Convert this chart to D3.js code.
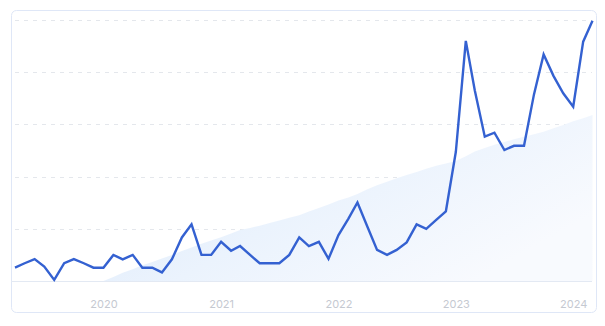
<!DOCTYPE html>
<html>
<head>
<meta charset="utf-8">
<script src="https://cdn.jsdelivr.net/npm/d3@7"></script>
<style>
body{margin:0;background:#fff;}
svg{display:block;}
</style>
</head>
<body>
<script>
//monthly categories, Apr 2019 - Mar 2024
var months=["2019-04","2019-05","2019-06","2019-07","2019-08","2019-09","2019-10","2019-11","2019-12",
	"2020-01","2020-02","2020-03","2020-04","2020-05","2020-06","2020-07","2020-08","2020-09","2020-10","2020-11","2020-12",
	"2021-01","2021-02","2021-03","2021-04","2021-05","2021-06","2021-07","2021-08","2021-09","2021-10","2021-11","2021-12",
	"2022-01","2022-02","2022-03","2022-04","2022-05","2022-06","2022-07","2022-08","2022-09","2022-10","2022-11","2022-12",
	"2023-01","2023-02","2023-03","2023-04","2023-05","2023-06","2023-07","2023-08","2023-09","2023-10","2023-11","2023-12",
	"2024-01","2024-02","2024-03"];

//search interest (0-100)
var interest=[5.1,6.8,8.4,5.5,0.4,6.8,8.4,6.8,5.1,
	5.1,10,8.3,10,5.1,5.1,3.3,8.3,16.7,21.7,10,10,
	15,11.6,13.4,10,6.8,6.8,6.8,10,16.7,13.4,15,8.5,
	17.6,23.9,30.1,20.8,11.9,10,11.9,14.8,21.7,20,23.4,26.7,
	49.5,92,73,55.3,56.8,50.2,51.8,51.8,71.5,86.8,78.5,71.9,66.8,
	91.7,99.7];

//background trend area (starts Jan 2020)
var trend=[null,null,null,null,null,null,null,null,null,
	0,1.5,3.2,4.5,6,7.3,8.6,10,11.5,12.8,14.3,15.5,
	16.8,18.2,19.5,20.3,21.2,22.2,23.2,24.2,25.2,26.6,28,29.3,
	30.8,32,33.3,35.2,36.7,38,39.4,40.6,41.8,43,44.2,45,
	46,47.8,49.6,51,52.2,53.3,54.3,55.3,56.2,57.2,58.5,59.8,61.2,
	62.4,63.6];

var yTicks=[20,40,60,80,100];
var yearTicks=["2020","2021","2022","2023","2024"];

window.onload=drawChart();

function drawChart(){
	var width=605,
		height=326;

	var svg=d3.select("body")
		.append("svg")
		.attr("width",width)
		.attr("height",height);

	var parseMonth=d3.timeParse("%Y-%m"),
		parseYear=d3.timeParse("%Y");

	var data=months.map(function(m,i){
		return {date:parseMonth(m),value:interest[i],trend:trend[i]};
	});

	var x=d3.scaleTime()
		.domain(d3.extent(data,function(d){return d.date;}))
		.range([15,592.5]);

	var y=d3.scaleLinear()
		.domain([0,100])
		.range([281,20]);

	//card
	svg.append("rect")
		.attr("x",11.5)
		.attr("y",10.5)
		.attr("width",585)
		.attr("height",302)
		.attr("rx",5)
		.attr("fill","#fff")
		.attr("stroke","#dfe7f7")
		.attr("stroke-width",1);

	//gradient for trend area, fading to the lower right
	var defs=svg.append("defs");
	var grad=defs.append("linearGradient")
		.attr("id","trendFill")
		.attr("x1","0%").attr("y1","0%")
		.attr("x2","100%").attr("y2","60%");
	grad.append("stop").attr("offset","0%").attr("stop-color","#d9e8fa");
	grad.append("stop").attr("offset","55%").attr("stop-color","#ebf3fd");
	grad.append("stop").attr("offset","100%").attr("stop-color","#f8fafe");

	//dashed gridlines
	svg.selectAll(".grid")
		.data(yTicks)
		.enter()
		.append("line")
		.attr("class","grid")
		.attr("x1",15)
		.attr("x2",592)
		.attr("y1",function(d){return Math.round(y(d))+0.5;})
		.attr("y2",function(d){return Math.round(y(d))+0.5;})
		.attr("stroke","#e4e7ec")
		.attr("stroke-dasharray","4,5");

	//trend area
	var area=d3.area()
		.defined(function(d){return d.trend!=null;})
		.x(function(d){return x(d.date);})
		.y0(y(0))
		.y1(function(d){return y(d.trend);});

	svg.append("path")
		.datum(data)
		.attr("d",area)
		.attr("fill","url(#trendFill)");

	//baseline
	svg.append("line")
		.attr("x1",11)
		.attr("x2",592)
		.attr("y1",Math.round(y(0))+0.5)
		.attr("y2",Math.round(y(0))+0.5)
		.attr("stroke","#e3e9f3");

	//interest line
	var line=d3.line()
		.x(function(d){return x(d.date);})
		.y(function(d){return y(d.value);});

	svg.append("path")
		.datum(data)
		.attr("d",line)
		.attr("fill","none")
		.attr("stroke","#3461d1")
		.attr("stroke-width",2.4)
		.attr("stroke-linejoin","miter");

	//year axis
	var xAxis=d3.axisBottom(x)
		.tickValues(yearTicks.map(parseYear))
		.tickSize(0)
		.tickPadding(0)
		.tickFormat(d3.timeFormat("%Y"));

	var axisG=svg.append("g")
		.attr("transform","translate(0,300)")
		.call(xAxis);
	axisG.select(".domain").remove();
	axisG.selectAll("text")
		.attr("fill","#c5c9d1")
		.style("font-family","Inter, 'Noto Sans', sans-serif")
		.style("font-size","11px");
};
</script>
</body>
</html>
